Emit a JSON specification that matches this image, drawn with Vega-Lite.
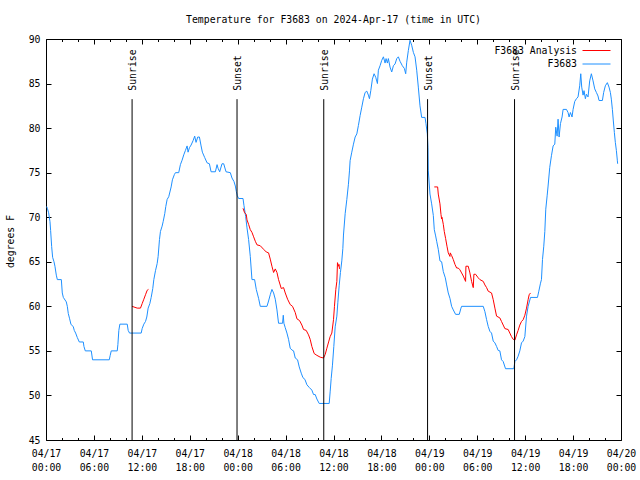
{
  "width": 575,
  "height": 401,
  "autosize": {"type": "none"},
  "padding": {"left": 46, "top": 39, "right": 19, "bottom": 40},
  "title": {"text": "Temperature for F3683 on 2024-Apr-17 (time in UTC)", "font": "DejaVu Sans Mono", "fontSize": 9.8, "fontWeight": "normal", "color": "black", "offset": 9},
  "config": {
    "view": {"stroke": null},
    "axis": {"labelFont": "DejaVu Sans Mono", "labelFontSize": 9.8, "labelColor": "black", "domainColor": "black", "tickColor": "black", "grid": false, "titleFont": "DejaVu Sans Mono", "titleFontSize": 9.8, "titleFontWeight": "normal", "titleColor": "black", "labelFlush": false, "labelOverlap": false},
    "legend": {"labelFont": "DejaVu Sans Mono", "labelFontSize": 9.8, "labelColor": "black"}
  },
  "datasets": {
    "events": [
      {"h": 10.78, "label": "Sunrise"},
      {"h": 23.92, "label": "Sunset"},
      {"h": 34.78, "label": "Sunrise"},
      {"h": 47.78, "label": "Sunset"},
      {"h": 58.67, "label": "Sunrise"}
    ]
  },
  "resolve": {"axis": {"x": "independent", "y": "independent"}},
  "layer": [
    {
      "data": {"values": [
        {"h":0.08,"v":71.2,"s":"F3683","g":0},{"h":0.17,"v":71,"s":"F3683","g":0},{"h":0.33,"v":70.5,"s":"F3683","g":0},{"h":0.5,"v":69.5,"s":"F3683","g":0},{"h":0.58,"v":68.5,"s":"F3683","g":0},{"h":0.71,"v":66.7,"s":"F3683","g":0},{"h":0.83,"v":65.5,"s":"F3683","g":0},{"h":1.0,"v":65,"s":"F3683","g":0},{"h":1.12,"v":64.5,"s":"F3683","g":0},{"h":1.29,"v":63.5,"s":"F3683","g":0},{"h":1.42,"v":63,"s":"F3683","g":0},{"h":1.92,"v":63,"s":"F3683","g":0},{"h":2.04,"v":61.5,"s":"F3683","g":0},{"h":2.17,"v":61,"s":"F3683","g":0},{"h":2.54,"v":60.5,"s":"F3683","g":0},{"h":2.67,"v":60,"s":"F3683","g":0},{"h":2.79,"v":59.2,"s":"F3683","g":0},{"h":2.96,"v":58.6,"s":"F3683","g":0},{"h":3.12,"v":58,"s":"F3683","g":0},{"h":3.42,"v":57.7,"s":"F3683","g":0},{"h":3.54,"v":57.3,"s":"F3683","g":0},{"h":3.71,"v":57,"s":"F3683","g":0},{"h":3.92,"v":56.5,"s":"F3683","g":0},{"h":4.17,"v":56,"s":"F3683","g":0},{"h":4.67,"v":56,"s":"F3683","g":0},{"h":4.75,"v":55.5,"s":"F3683","g":0},{"h":4.92,"v":55,"s":"F3683","g":0},{"h":5.67,"v":55,"s":"F3683","g":0},{"h":5.83,"v":54,"s":"F3683","g":0},{"h":7.92,"v":54,"s":"F3683","g":0},{"h":8.04,"v":54.5,"s":"F3683","g":0},{"h":8.17,"v":55,"s":"F3683","g":0},{"h":8.92,"v":55,"s":"F3683","g":0},{"h":9.0,"v":55.7,"s":"F3683","g":0},{"h":9.12,"v":57.3,"s":"F3683","g":0},{"h":9.25,"v":58,"s":"F3683","g":0},{"h":10.17,"v":58,"s":"F3683","g":0},{"h":10.29,"v":57.3,"s":"F3683","g":0},{"h":10.46,"v":57,"s":"F3683","g":0},{"h":11.92,"v":57,"s":"F3683","g":0},{"h":12.04,"v":57.5,"s":"F3683","g":0},{"h":12.25,"v":58,"s":"F3683","g":0},{"h":12.46,"v":58.3,"s":"F3683","g":0},{"h":12.62,"v":58.8,"s":"F3683","g":0},{"h":12.79,"v":59.8,"s":"F3683","g":0},{"h":13.0,"v":60.3,"s":"F3683","g":0},{"h":13.17,"v":61,"s":"F3683","g":0},{"h":13.37,"v":62,"s":"F3683","g":0},{"h":13.5,"v":63,"s":"F3683","g":0},{"h":13.71,"v":64,"s":"F3683","g":0},{"h":13.92,"v":64.8,"s":"F3683","g":0},{"h":14.04,"v":65.6,"s":"F3683","g":0},{"h":14.21,"v":67.5,"s":"F3683","g":0},{"h":14.33,"v":68.4,"s":"F3683","g":0},{"h":14.54,"v":69,"s":"F3683","g":0},{"h":14.67,"v":69.5,"s":"F3683","g":0},{"h":14.87,"v":70.4,"s":"F3683","g":0},{"h":15.0,"v":71.2,"s":"F3683","g":0},{"h":15.17,"v":72,"s":"F3683","g":0},{"h":15.37,"v":72.3,"s":"F3683","g":0},{"h":15.67,"v":73.4,"s":"F3683","g":0},{"h":15.83,"v":74.2,"s":"F3683","g":0},{"h":16.08,"v":74.8,"s":"F3683","g":0},{"h":16.21,"v":75,"s":"F3683","g":0},{"h":16.62,"v":75,"s":"F3683","g":0},{"h":16.83,"v":75.9,"s":"F3683","g":0},{"h":17.04,"v":76.4,"s":"F3683","g":0},{"h":17.25,"v":77,"s":"F3683","g":0},{"h":17.46,"v":77.5,"s":"F3683","g":0},{"h":17.67,"v":78,"s":"F3683","g":0},{"h":17.79,"v":77.3,"s":"F3683","g":0},{"h":17.96,"v":77.8,"s":"F3683","g":0},{"h":18.17,"v":78.1,"s":"F3683","g":0},{"h":18.42,"v":78.6,"s":"F3683","g":0},{"h":18.62,"v":79.1,"s":"F3683","g":0},{"h":18.79,"v":78.4,"s":"F3683","g":0},{"h":19.0,"v":79,"s":"F3683","g":0},{"h":19.21,"v":79,"s":"F3683","g":0},{"h":19.42,"v":78,"s":"F3683","g":0},{"h":19.58,"v":77.3,"s":"F3683","g":0},{"h":19.87,"v":76.7,"s":"F3683","g":0},{"h":20.17,"v":76.1,"s":"F3683","g":0},{"h":20.46,"v":76,"s":"F3683","g":0},{"h":20.67,"v":75.1,"s":"F3683","g":0},{"h":21.21,"v":75.1,"s":"F3683","g":0},{"h":21.42,"v":75.9,"s":"F3683","g":0},{"h":21.54,"v":75.5,"s":"F3683","g":0},{"h":21.75,"v":75.1,"s":"F3683","g":0},{"h":22.04,"v":76,"s":"F3683","g":0},{"h":22.25,"v":76,"s":"F3683","g":0},{"h":22.54,"v":75.1,"s":"F3683","g":0},{"h":23.08,"v":75,"s":"F3683","g":0},{"h":23.29,"v":74.4,"s":"F3683","g":0},{"h":23.54,"v":74,"s":"F3683","g":0},{"h":23.71,"v":73.5,"s":"F3683","g":0},{"h":23.83,"v":72.9,"s":"F3683","g":0},{"h":23.96,"v":72.4,"s":"F3683","g":0},
        {"h":24.12,"v":72.1,"s":"F3683","g":0},{"h":24.67,"v":72.1,"s":"F3683","g":0},{"h":24.79,"v":71.3,"s":"F3683","g":0},{"h":25.0,"v":70.1,"s":"F3683","g":0},{"h":25.17,"v":68.8,"s":"F3683","g":0},{"h":25.37,"v":67.5,"s":"F3683","g":0},{"h":25.58,"v":65.6,"s":"F3683","g":0},{"h":25.79,"v":63,"s":"F3683","g":0},{"h":26.12,"v":63,"s":"F3683","g":0},{"h":26.33,"v":61.9,"s":"F3683","g":0},{"h":26.62,"v":60.9,"s":"F3683","g":0},{"h":26.83,"v":60,"s":"F3683","g":0},{"h":27.67,"v":60,"s":"F3683","g":0},{"h":27.87,"v":60.6,"s":"F3683","g":0},{"h":28.08,"v":61.3,"s":"F3683","g":0},{"h":28.29,"v":61.9,"s":"F3683","g":0},{"h":28.5,"v":61.5,"s":"F3683","g":0},{"h":28.71,"v":60.8,"s":"F3683","g":0},{"h":28.92,"v":59.6,"s":"F3683","g":0},{"h":29.12,"v":58.1,"s":"F3683","g":0},{"h":29.62,"v":58.1,"s":"F3683","g":0},{"h":29.71,"v":59,"s":"F3683","g":0},{"h":29.79,"v":58.1,"s":"F3683","g":0},{"h":29.96,"v":57.6,"s":"F3683","g":0},{"h":30.17,"v":57,"s":"F3683","g":0},{"h":30.37,"v":56.3,"s":"F3683","g":0},{"h":30.58,"v":55.3,"s":"F3683","g":0},{"h":30.79,"v":55.1,"s":"F3683","g":0},{"h":31.0,"v":55,"s":"F3683","g":0},{"h":31.21,"v":54.2,"s":"F3683","g":0},{"h":31.5,"v":54,"s":"F3683","g":0},{"h":31.71,"v":53.2,"s":"F3683","g":0},{"h":31.96,"v":52.5,"s":"F3683","g":0},{"h":32.17,"v":52,"s":"F3683","g":0},{"h":32.42,"v":51.8,"s":"F3683","g":0},{"h":32.67,"v":51.2,"s":"F3683","g":0},{"h":32.96,"v":50.9,"s":"F3683","g":0},{"h":33.29,"v":50.6,"s":"F3683","g":0},{"h":33.5,"v":50.1,"s":"F3683","g":0},{"h":33.71,"v":50.1,"s":"F3683","g":0},{"h":33.92,"v":49.6,"s":"F3683","g":0},{"h":34.21,"v":49.1,"s":"F3683","g":0},{"h":35.46,"v":49.1,"s":"F3683","g":0},{"h":35.58,"v":50.4,"s":"F3683","g":0},{"h":35.71,"v":51.9,"s":"F3683","g":0},{"h":35.87,"v":53.4,"s":"F3683","g":0},{"h":36.04,"v":55.5,"s":"F3683","g":0},{"h":36.21,"v":57.7,"s":"F3683","g":0},{"h":36.42,"v":58.9,"s":"F3683","g":0},{"h":36.54,"v":60.4,"s":"F3683","g":0},{"h":36.71,"v":62.3,"s":"F3683","g":0},{"h":36.87,"v":63.8,"s":"F3683","g":0},{"h":37.04,"v":65.1,"s":"F3683","g":0},{"h":37.17,"v":66.5,"s":"F3683","g":0},{"h":37.25,"v":68,"s":"F3683","g":0},{"h":37.46,"v":70.4,"s":"F3683","g":0},{"h":37.67,"v":72,"s":"F3683","g":0},{"h":37.87,"v":73.7,"s":"F3683","g":0},{"h":38.0,"v":75.2,"s":"F3683","g":0},{"h":38.08,"v":76.35,"s":"F3683","g":0},{"h":38.29,"v":77.3,"s":"F3683","g":0},{"h":38.5,"v":78.2,"s":"F3683","g":0},{"h":38.71,"v":79,"s":"F3683","g":0},{"h":38.92,"v":79.35,"s":"F3683","g":0},{"h":39.12,"v":80.3,"s":"F3683","g":0},{"h":39.33,"v":81.4,"s":"F3683","g":0},{"h":39.54,"v":82.35,"s":"F3683","g":0},{"h":39.75,"v":83.3,"s":"F3683","g":0},{"h":39.96,"v":84,"s":"F3683","g":0},{"h":40.17,"v":84.15,"s":"F3683","g":0},{"h":40.37,"v":83.7,"s":"F3683","g":0},{"h":40.5,"v":83.3,"s":"F3683","g":0},{"h":40.67,"v":84.2,"s":"F3683","g":0},{"h":40.87,"v":85.5,"s":"F3683","g":0},{"h":41.08,"v":86.1,"s":"F3683","g":0},{"h":41.29,"v":85.7,"s":"F3683","g":0},{"h":41.5,"v":85,"s":"F3683","g":0},{"h":41.62,"v":86.5,"s":"F3683","g":0},{"h":41.83,"v":87,"s":"F3683","g":0},{"h":42.04,"v":87.6,"s":"F3683","g":0},{"h":42.25,"v":88,"s":"F3683","g":0},{"h":42.46,"v":87.3,"s":"F3683","g":0},{"h":42.58,"v":87.8,"s":"F3683","g":0},{"h":42.75,"v":87.3,"s":"F3683","g":0},{"h":42.87,"v":87.8,"s":"F3683","g":0},{"h":43.08,"v":86.85,"s":"F3683","g":0},{"h":43.29,"v":86.3,"s":"F3683","g":0},{"h":43.5,"v":87,"s":"F3683","g":0},{"h":43.71,"v":87.2,"s":"F3683","g":0},{"h":43.92,"v":87.8,"s":"F3683","g":0},{"h":44.12,"v":88,"s":"F3683","g":0},{"h":44.33,"v":87.5,"s":"F3683","g":0},{"h":44.62,"v":87,"s":"F3683","g":0},{"h":44.87,"v":86.7,"s":"F3683","g":0},{"h":45.04,"v":86.1,"s":"F3683","g":0},{"h":45.17,"v":87.4,"s":"F3683","g":0},{"h":45.37,"v":88.7,"s":"F3683","g":0},{"h":45.58,"v":89.85,"s":"F3683","g":0},{"h":45.79,"v":89.3,"s":"F3683","g":0},{"h":46.0,"v":88.5,"s":"F3683","g":0},{"h":46.21,"v":88,"s":"F3683","g":0},{"h":46.42,"v":86.5,"s":"F3683","g":0},{"h":46.62,"v":84.6,"s":"F3683","g":0},{"h":46.83,"v":82.5,"s":"F3683","g":0},{"h":47.04,"v":81.2,"s":"F3683","g":0},{"h":47.46,"v":81.2,"s":"F3683","g":0},{"h":47.58,"v":80.5,"s":"F3683","g":0},{"h":47.75,"v":79.35,"s":"F3683","g":0},{"h":47.83,"v":77.8,"s":"F3683","g":0},{"h":47.87,"v":75.2,"s":"F3683","g":0},
        {"h":48.08,"v":72.6,"s":"F3683","g":0},{"h":48.29,"v":71.5,"s":"F3683","g":0},{"h":48.5,"v":70.2,"s":"F3683","g":0},{"h":48.62,"v":68.6,"s":"F3683","g":0},{"h":48.79,"v":67.9,"s":"F3683","g":0},{"h":48.92,"v":67.3,"s":"F3683","g":0},{"h":49.12,"v":66.4,"s":"F3683","g":0},{"h":49.33,"v":65.1,"s":"F3683","g":0},{"h":49.54,"v":65,"s":"F3683","g":0},{"h":49.75,"v":63.9,"s":"F3683","g":0},{"h":50.0,"v":63.2,"s":"F3683","g":0},{"h":50.17,"v":62.4,"s":"F3683","g":0},{"h":50.37,"v":61.5,"s":"F3683","g":0},{"h":50.58,"v":60.9,"s":"F3683","g":0},{"h":50.79,"v":60,"s":"F3683","g":0},{"h":51.0,"v":59.6,"s":"F3683","g":0},{"h":51.29,"v":59.1,"s":"F3683","g":0},{"h":51.75,"v":59.1,"s":"F3683","g":0},{"h":51.96,"v":59.8,"s":"F3683","g":0},{"h":52.04,"v":60,"s":"F3683","g":0},{"h":54.75,"v":60,"s":"F3683","g":0},{"h":54.96,"v":59.4,"s":"F3683","g":0},{"h":55.17,"v":58.5,"s":"F3683","g":0},{"h":55.37,"v":57.75,"s":"F3683","g":0},{"h":55.58,"v":57.2,"s":"F3683","g":0},{"h":55.79,"v":57,"s":"F3683","g":0},{"h":56.0,"v":56.1,"s":"F3683","g":0},{"h":56.21,"v":55.9,"s":"F3683","g":0},{"h":56.42,"v":55.5,"s":"F3683","g":0},{"h":56.62,"v":55.05,"s":"F3683","g":0},{"h":56.83,"v":55,"s":"F3683","g":0},{"h":57.04,"v":54,"s":"F3683","g":0},{"h":57.25,"v":53.8,"s":"F3683","g":0},{"h":57.54,"v":53,"s":"F3683","g":0},{"h":58.58,"v":53,"s":"F3683","g":0},{"h":58.71,"v":53.8,"s":"F3683","g":0},{"h":58.92,"v":54,"s":"F3683","g":0},{"h":59.12,"v":54.4,"s":"F3683","g":0},{"h":59.33,"v":55,"s":"F3683","g":0},{"h":59.54,"v":55.9,"s":"F3683","g":0},{"h":59.75,"v":56.1,"s":"F3683","g":0},{"h":59.96,"v":56.6,"s":"F3683","g":0},{"h":60.17,"v":58.9,"s":"F3683","g":0},{"h":60.37,"v":60,"s":"F3683","g":0},{"h":60.67,"v":61,"s":"F3683","g":0},{"h":61.54,"v":61,"s":"F3683","g":0},{"h":61.71,"v":61.7,"s":"F3683","g":0},{"h":61.92,"v":62.6,"s":"F3683","g":0},{"h":62.04,"v":63,"s":"F3683","g":0},{"h":62.17,"v":65.25,"s":"F3683","g":0},{"h":62.33,"v":66.75,"s":"F3683","g":0},{"h":62.46,"v":68.4,"s":"F3683","g":0},{"h":62.58,"v":70.9,"s":"F3683","g":0},{"h":62.75,"v":72.4,"s":"F3683","g":0},{"h":62.87,"v":73.5,"s":"F3683","g":0},{"h":63.08,"v":75.6,"s":"F3683","g":0},{"h":63.29,"v":76.9,"s":"F3683","g":0},{"h":63.5,"v":78,"s":"F3683","g":0},{"h":63.71,"v":78.2,"s":"F3683","g":0},{"h":63.83,"v":80.1,"s":"F3683","g":0},{"h":64.0,"v":79.1,"s":"F3683","g":0},{"h":64.12,"v":81,"s":"F3683","g":0},{"h":64.25,"v":79,"s":"F3683","g":0},{"h":64.42,"v":80.5,"s":"F3683","g":0},{"h":64.62,"v":81.25,"s":"F3683","g":0},{"h":64.75,"v":82.1,"s":"F3683","g":0},{"h":65.17,"v":82.1,"s":"F3683","g":0},{"h":65.37,"v":81.75,"s":"F3683","g":0},{"h":65.5,"v":81.25,"s":"F3683","g":0},{"h":65.67,"v":81.75,"s":"F3683","g":0},{"h":65.87,"v":81.25,"s":"F3683","g":0},{"h":66.0,"v":82.1,"s":"F3683","g":0},{"h":66.21,"v":83,"s":"F3683","g":0},{"h":66.42,"v":83.3,"s":"F3683","g":0},{"h":66.62,"v":83.5,"s":"F3683","g":0},{"h":66.83,"v":84.75,"s":"F3683","g":0},{"h":66.96,"v":86.1,"s":"F3683","g":0},{"h":67.08,"v":84.6,"s":"F3683","g":0},{"h":67.25,"v":83.7,"s":"F3683","g":0},{"h":67.37,"v":84.2,"s":"F3683","g":0},{"h":67.54,"v":83.3,"s":"F3683","g":0},{"h":67.67,"v":83.8,"s":"F3683","g":0},{"h":67.87,"v":83.5,"s":"F3683","g":0},{"h":68.08,"v":85.3,"s":"F3683","g":0},{"h":68.29,"v":86.1,"s":"F3683","g":0},{"h":68.5,"v":85.3,"s":"F3683","g":0},{"h":68.71,"v":84.4,"s":"F3683","g":0},{"h":68.92,"v":84,"s":"F3683","g":0},{"h":69.12,"v":83.6,"s":"F3683","g":0},{"h":69.25,"v":83.1,"s":"F3683","g":0},{"h":69.67,"v":83.1,"s":"F3683","g":0},{"h":69.83,"v":84,"s":"F3683","g":0},{"h":70.04,"v":84.75,"s":"F3683","g":0},{"h":70.29,"v":85.1,"s":"F3683","g":0},{"h":70.5,"v":84.6,"s":"F3683","g":0},{"h":70.67,"v":84,"s":"F3683","g":0},{"h":70.79,"v":83.25,"s":"F3683","g":0},{"h":70.92,"v":82.1,"s":"F3683","g":0},{"h":71.04,"v":80.8,"s":"F3683","g":0},{"h":71.17,"v":79.5,"s":"F3683","g":0},{"h":71.29,"v":78.4,"s":"F3683","g":0},{"h":71.42,"v":77.5,"s":"F3683","g":0},{"h":71.54,"v":76.4,"s":"F3683","g":0},{"h":71.58,"v":76,"s":"F3683","g":0},
        {"h":10.78,"v":60,"s":"F3683 Analysis","g":1},{"h":11.42,"v":59.8,"s":"F3683 Analysis","g":1},{"h":11.83,"v":59.8,"s":"F3683 Analysis","g":1},{"h":12.04,"v":60.3,"s":"F3683 Analysis","g":1},{"h":12.25,"v":60.8,"s":"F3683 Analysis","g":1},{"h":12.46,"v":61.3,"s":"F3683 Analysis","g":1},{"h":12.67,"v":61.8,"s":"F3683 Analysis","g":1},{"h":12.83,"v":61.9,"s":"F3683 Analysis","g":1},
        {"h":24.67,"v":71,"s":"F3683 Analysis","g":2},{"h":24.87,"v":70.5,"s":"F3683 Analysis","g":2},{"h":25.08,"v":70.3,"s":"F3683 Analysis","g":2},{"h":25.17,"v":69.7,"s":"F3683 Analysis","g":2},{"h":25.37,"v":69.2,"s":"F3683 Analysis","g":2},{"h":25.58,"v":68.6,"s":"F3683 Analysis","g":2},{"h":25.79,"v":68.3,"s":"F3683 Analysis","g":2},{"h":26.0,"v":67.8,"s":"F3683 Analysis","g":2},{"h":26.21,"v":67.3,"s":"F3683 Analysis","g":2},{"h":26.42,"v":66.9,"s":"F3683 Analysis","g":2},{"h":26.83,"v":66.8,"s":"F3683 Analysis","g":2},{"h":27.25,"v":66.4,"s":"F3683 Analysis","g":2},{"h":27.58,"v":66.1,"s":"F3683 Analysis","g":2},{"h":27.87,"v":66,"s":"F3683 Analysis","g":2},{"h":28.08,"v":65.3,"s":"F3683 Analysis","g":2},{"h":28.29,"v":64.5,"s":"F3683 Analysis","g":2},{"h":28.5,"v":63.8,"s":"F3683 Analysis","g":2},{"h":28.71,"v":64.2,"s":"F3683 Analysis","g":2},{"h":28.92,"v":63.8,"s":"F3683 Analysis","g":2},{"h":29.12,"v":63,"s":"F3683 Analysis","g":2},{"h":29.46,"v":62,"s":"F3683 Analysis","g":2},{"h":29.75,"v":62.1,"s":"F3683 Analysis","g":2},{"h":29.96,"v":61.5,"s":"F3683 Analysis","g":2},{"h":30.25,"v":60.8,"s":"F3683 Analysis","g":2},{"h":30.58,"v":60.2,"s":"F3683 Analysis","g":2},{"h":30.87,"v":60,"s":"F3683 Analysis","g":2},{"h":31.21,"v":59.3,"s":"F3683 Analysis","g":2},{"h":31.42,"v":58.6,"s":"F3683 Analysis","g":2},{"h":31.75,"v":58.4,"s":"F3683 Analysis","g":2},{"h":32.04,"v":57.9,"s":"F3683 Analysis","g":2},{"h":32.25,"v":57.4,"s":"F3683 Analysis","g":2},{"h":32.58,"v":57.3,"s":"F3683 Analysis","g":2},{"h":32.87,"v":56.8,"s":"F3683 Analysis","g":2},{"h":33.08,"v":56.3,"s":"F3683 Analysis","g":2},{"h":33.29,"v":55.5,"s":"F3683 Analysis","g":2},{"h":33.58,"v":54.7,"s":"F3683 Analysis","g":2},{"h":33.92,"v":54.5,"s":"F3683 Analysis","g":2},{"h":34.33,"v":54.3,"s":"F3683 Analysis","g":2},{"h":34.75,"v":54.2,"s":"F3683 Analysis","g":2},{"h":34.96,"v":54.6,"s":"F3683 Analysis","g":2},{"h":35.17,"v":55.3,"s":"F3683 Analysis","g":2},{"h":35.42,"v":56.1,"s":"F3683 Analysis","g":2},{"h":35.58,"v":56.6,"s":"F3683 Analysis","g":2},{"h":35.79,"v":57,"s":"F3683 Analysis","g":2},{"h":36.0,"v":58.5,"s":"F3683 Analysis","g":2},{"h":36.12,"v":60,"s":"F3683 Analysis","g":2},{"h":36.29,"v":61.9,"s":"F3683 Analysis","g":2},{"h":36.42,"v":62.8,"s":"F3683 Analysis","g":2},{"h":36.5,"v":64.9,"s":"F3683 Analysis","g":2},{"h":36.62,"v":64.5,"s":"F3683 Analysis","g":2},{"h":36.69,"v":64.7,"s":"F3683 Analysis","g":2},{"h":36.75,"v":64.2,"s":"F3683 Analysis","g":2},
        {"h":48.62,"v":73.4,"s":"F3683 Analysis","g":3},{"h":49.04,"v":73.4,"s":"F3683 Analysis","g":3},{"h":49.12,"v":72.6,"s":"F3683 Analysis","g":3},{"h":49.33,"v":71.5,"s":"F3683 Analysis","g":3},{"h":49.46,"v":70.3,"s":"F3683 Analysis","g":3},{"h":49.54,"v":69.8,"s":"F3683 Analysis","g":3},{"h":49.58,"v":70,"s":"F3683 Analysis","g":3},{"h":49.75,"v":69.2,"s":"F3683 Analysis","g":3},{"h":49.87,"v":68.4,"s":"F3683 Analysis","g":3},{"h":50.04,"v":67.6,"s":"F3683 Analysis","g":3},{"h":50.21,"v":66.75,"s":"F3683 Analysis","g":3},{"h":50.37,"v":66,"s":"F3683 Analysis","g":3},{"h":50.58,"v":65.6,"s":"F3683 Analysis","g":3},{"h":50.62,"v":66,"s":"F3683 Analysis","g":3},{"h":50.79,"v":65.7,"s":"F3683 Analysis","g":3},{"h":51.0,"v":65.25,"s":"F3683 Analysis","g":3},{"h":51.21,"v":64.7,"s":"F3683 Analysis","g":3},{"h":51.42,"v":64.3,"s":"F3683 Analysis","g":3},{"h":51.62,"v":64.3,"s":"F3683 Analysis","g":3},{"h":51.83,"v":64.1,"s":"F3683 Analysis","g":3},{"h":52.04,"v":63.75,"s":"F3683 Analysis","g":3},{"h":52.25,"v":63.4,"s":"F3683 Analysis","g":3},{"h":52.54,"v":62.8,"s":"F3683 Analysis","g":3},{"h":52.58,"v":64.5,"s":"F3683 Analysis","g":3},{"h":52.87,"v":64.5,"s":"F3683 Analysis","g":3},{"h":53.08,"v":63.75,"s":"F3683 Analysis","g":3},{"h":53.29,"v":62.8,"s":"F3683 Analysis","g":3},{"h":53.5,"v":62.1,"s":"F3683 Analysis","g":3},{"h":53.58,"v":63.6,"s":"F3683 Analysis","g":3},{"h":53.79,"v":63.6,"s":"F3683 Analysis","g":3},{"h":54.12,"v":63.2,"s":"F3683 Analysis","g":3},{"h":54.33,"v":63,"s":"F3683 Analysis","g":3},{"h":54.75,"v":62.8,"s":"F3683 Analysis","g":3},{"h":54.96,"v":62.4,"s":"F3683 Analysis","g":3},{"h":55.17,"v":62.1,"s":"F3683 Analysis","g":3},{"h":55.37,"v":61.7,"s":"F3683 Analysis","g":3},{"h":55.79,"v":61.5,"s":"F3683 Analysis","g":3},{"h":56.0,"v":60.75,"s":"F3683 Analysis","g":3},{"h":56.21,"v":59.8,"s":"F3683 Analysis","g":3},{"h":56.42,"v":58.9,"s":"F3683 Analysis","g":3},{"h":56.83,"v":58.7,"s":"F3683 Analysis","g":3},{"h":57.04,"v":58.3,"s":"F3683 Analysis","g":3},{"h":57.25,"v":57.9,"s":"F3683 Analysis","g":3},{"h":57.46,"v":57.5,"s":"F3683 Analysis","g":3},{"h":57.87,"v":57.4,"s":"F3683 Analysis","g":3},{"h":58.08,"v":57,"s":"F3683 Analysis","g":3},{"h":58.29,"v":56.6,"s":"F3683 Analysis","g":3},{"h":58.5,"v":56.3,"s":"F3683 Analysis","g":3},{"h":58.71,"v":56.2,"s":"F3683 Analysis","g":3},{"h":58.92,"v":56.8,"s":"F3683 Analysis","g":3},{"h":59.12,"v":57.3,"s":"F3683 Analysis","g":3},{"h":59.33,"v":57.9,"s":"F3683 Analysis","g":3},{"h":59.54,"v":58.3,"s":"F3683 Analysis","g":3},{"h":59.75,"v":58.5,"s":"F3683 Analysis","g":3},{"h":59.96,"v":59,"s":"F3683 Analysis","g":3},{"h":60.17,"v":59.8,"s":"F3683 Analysis","g":3},{"h":60.37,"v":60.75,"s":"F3683 Analysis","g":3},{"h":60.5,"v":61.3,"s":"F3683 Analysis","g":3},{"h":60.67,"v":61.5,"s":"F3683 Analysis","g":3}
      ]},
      "mark": {"type": "line", "strokeWidth": 1},
      "encoding": {
        "x": {"field": "h", "type": "quantitative", "scale": {"domain": [0, 72], "nice": false, "zero": false},
              "axis": {"orient": "bottom", "values": [0, 6, 12, 18, 24, 30, 36, 42, 48, 54, 60, 66, 72], "tickSize": -5, "labelPadding": 13, "labelExpr": "'04/' + (17 + floor(datum.value / 24))", "domain": true, "title": null}},
        "y": {"field": "v", "type": "quantitative", "scale": {"domain": [45, 90], "nice": false, "zero": false},
              "axis": {"orient": "left", "values": [45, 50, 55, 60, 65, 70, 75, 80, 85, 90], "tickSize": -5, "labelPadding": 11, "domain": true, "title": "degrees F", "titleX": -36, "titleY": 202, "titleAngle": 270, "titleAlign": "center", "titleBaseline": "middle"}},
        "detail": {"field": "g", "type": "nominal"},
        "color": {"field": "s", "type": "nominal", "scale": {"domain": ["F3683 Analysis", "F3683"], "range": ["#ff0000", "#1e90ff"]},
                  "legend": {"title": null, "orient": "none", "legendX": 545, "legendY": 6, "padding": 0, "symbolType": "M-2.8,0H2.8", "symbolSize": 100, "symbolStrokeWidth": 1, "rowPadding": 2.5, "labelAlign": "right", "labelOffset": -25,
                             "encode": {"symbols": {"update": {"stroke": {"scale": "color", "field": "value"}, "strokeWidth": {"value": 1}, "fill": {"value": "transparent"}}}}}}
      }
    },
    {
      "data": {"name": "events"},
      "mark": {"type": "rule", "color": "black", "strokeWidth": 1},
      "encoding": {
        "x": {"field": "h", "type": "quantitative",
              "axis": {"orient": "bottom", "values": [0, 6, 12, 18, 24, 30, 36, 42, 48, 54, 60, 66, 72], "ticks": false, "domain": false, "labelPadding": 22, "labelExpr": "(datum.value % 24 < 10 ? '0' : '') + (datum.value % 24) + ':00'", "title": null}},
        "y": {"datum": 45, "type": "quantitative",
              "axis": {"orient": "right", "labels": false, "domain": true, "tickSize": -5, "values": [45, 50, 55, 60, 65, 70, 75, 80, 85, 90], "title": null}},
        "y2": {"datum": 83.25}
      }
    },
    {
      "data": {"name": "events"},
      "mark": {"type": "text", "angle": 270, "align": "left", "baseline": "middle", "dy": 1, "font": "DejaVu Sans Mono", "fontSize": 9.8, "color": "black"},
      "encoding": {
        "x": {"field": "h", "type": "quantitative",
              "axis": {"orient": "top", "labels": false, "domain": true, "tickSize": -5, "values": [0, 6, 12, 18, 24, 30, 36, 42, 48, 54, 60, 66, 72], "title": null}},
        "y": {"datum": 84.2, "type": "quantitative", "axis": null},
        "text": {"field": "label"}
      }
    },
    {
      "data": {"name": "events"},
      "mark": {"type": "rule", "opacity": 0},
      "encoding": {
        "x": {"field": "h", "type": "quantitative",
              "axis": {"orient": "bottom", "labels": false, "domain": false, "tickSize": -2.5, "values": [2, 4, 8, 10, 14, 16, 20, 22, 26, 28, 32, 34, 38, 40, 44, 46, 50, 52, 56, 58, 62, 64, 68, 70], "title": null}},
        "y": {"datum": 45, "type": "quantitative", "axis": null},
        "y2": {"datum": 83.25}
      }
    },
    {
      "data": {"name": "events"},
      "mark": {"type": "rule", "opacity": 0},
      "encoding": {
        "x": {"field": "h", "type": "quantitative",
              "axis": {"orient": "top", "labels": false, "domain": false, "tickSize": -2.5, "values": [2, 4, 8, 10, 14, 16, 20, 22, 26, 28, 32, 34, 38, 40, 44, 46, 50, 52, 56, 58, 62, 64, 68, 70], "title": null}},
        "y": {"datum": 45, "type": "quantitative", "axis": null},
        "y2": {"datum": 83.25}
      }
    }
  ]
}
